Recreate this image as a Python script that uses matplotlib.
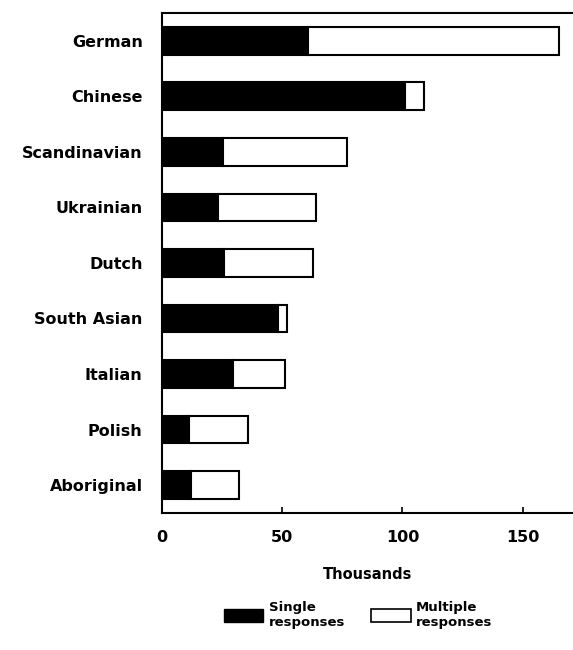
import matplotlib
matplotlib.use("Agg")
import matplotlib.pyplot as plt
from matplotlib.patches import Patch

categories = ["German", "Chinese", "Scandinavian", "Ukrainian", "Dutch",
              "South Asian", "Italian", "Polish", "Aboriginal"]
single = [60.8, 101, 25.4, 23.3, 25.7, 48.1, 29.6, 11.1, 11.8]
total = [165, 109, 76.8, 63.9, 62.9, 51.8, 51.1, 35.8, 32]
multiple = [t - s for t, s in zip(total, single)]
xticks = [0, 50, 100, 150]

plt.rcParams['font.family'] = ['DejaVu Sans']
plt.rcParams['font.weight'] = 'bold'
FS = 11.5

fig = plt.figure(figsize=(5.73, 6.5), dpi=100)
ax = fig.add_axes([0.283, 0.211, 0.717, 0.769])

y = list(range(len(categories)))
ax.barh(y, single, height=0.5, color='black', edgecolor='black', linewidth=1.5)
ax.barh(y, multiple, left=single, height=0.5, color='white', edgecolor='black', linewidth=1.5)

ax.set_ylim(len(categories) - 0.5, -0.5)
ax.set_xlim(0, 171)
ax.set_yticks(y)
ax.set_yticklabels(categories, fontsize=FS, fontweight='bold')
ax.tick_params(axis='y', length=0, pad=14)
ax.set_xticks(xticks)
ax.set_xticklabels([str(v) for v in xticks], fontsize=FS, fontweight='bold')
ax.tick_params(axis='x', direction='in', length=4, width=1.2, pad=12)
for s in ['left', 'top', 'bottom']:
    ax.spines[s].set_linewidth(1.5)
ax.spines['right'].set_visible(False)
ax.set_xlabel("Thousands", fontsize=FS - 1, fontweight='bold', labelpad=16)

handles = [Patch(facecolor='black', edgecolor='black'),
           Patch(facecolor='white', edgecolor='black', linewidth=1.2)]
leg = fig.legend(handles, ["Single\nresponses", "Multiple\nresponses"], ncol=2,
                 loc='center', bbox_to_anchor=(0.625, 0.054), frameon=False,
                 prop={'size': 9.5, 'weight': 'bold'}, handlelength=3.0, handleheight=1.2,
                 columnspacing=2.0, handletextpad=0.4, labelspacing=0.2)

fig.savefig("out.png", dpi=100)
